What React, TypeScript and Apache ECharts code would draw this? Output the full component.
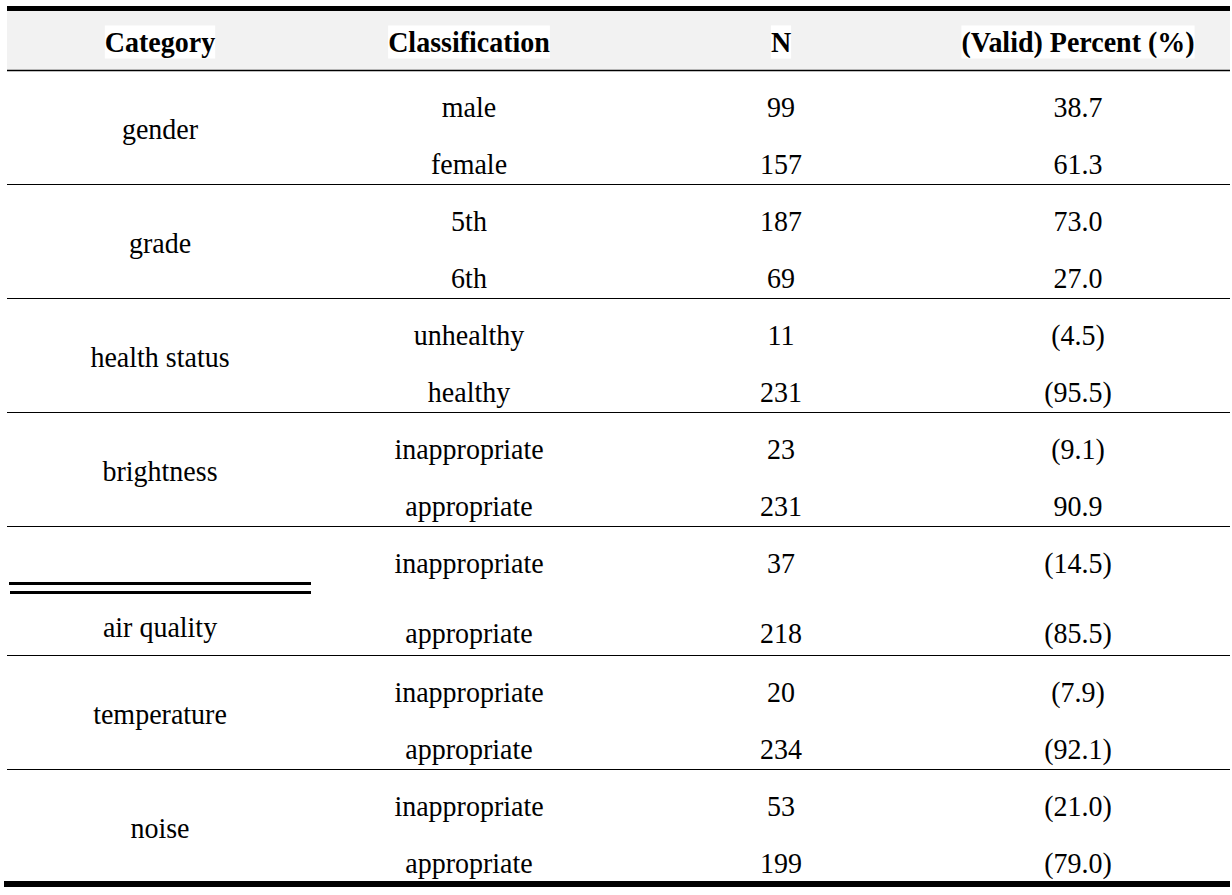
import React, { useEffect, useRef } from "react";
import * as echarts from "echarts";

const headers = ["Category", "Classification", "N", "(Valid) Percent (%)"];
const categories = ["gender", "grade", "health status", "brightness", "air quality", "temperature", "noise"];
const classifications = [
  ["male", "female"],
  ["5th", "6th"],
  ["unhealthy", "healthy"],
  ["inappropriate", "appropriate"],
  ["inappropriate", "appropriate"],
  ["inappropriate", "appropriate"],
  ["inappropriate", "appropriate"],
];
const nValues = [
  [99, 157],
  [187, 69],
  [11, 231],
  [23, 231],
  [37, 218],
  [20, 234],
  [53, 199],
];
const percentLabels = [
  ["38.7", "61.3"],
  ["73.0", "27.0"],
  ["(4.5)", "(95.5)"],
  ["(9.1)", "90.9"],
  ["(14.5)", "(85.5)"],
  ["(7.9)", "(92.1)"],
  ["(21.0)", "(79.0)"],
];

const FONT = "Liberation Serif";
const FS = 28;
const SY = 1.07;

export default function App() {
  const ref = useRef<HTMLDivElement>(null);
  useEffect(() => {
    if (!ref.current) return;
    const chart = echarts.init(ref.current, null, { renderer: "svg" });
    const colX = [160, 469, 781, 1078];
    const left = 7;
    const right = 1230;
    const headerBottom = 70;
    const els: any[] = [];

    const txt = (s: string, x: number, y: number, bold = false, bg = false) => ({
      type: "text",
      x,
      y,
      scaleY: SY,
      style: {
        text: s,
        x: 0,
        y: 0,
        fill: "#000",
        fontFamily: FONT,
        fontSize: FS,
        fontWeight: bold ? "bold" : "normal",
        textAlign: "center",
        textVerticalAlign: "middle",
        ...(bg ? { backgroundColor: "#fff", padding: [2, 0, 1, 0] } : {}),
      },
    });

    // header background
    els.push({ type: "rect", shape: { x: left, y: 10, width: right - left, height: headerBottom - 10 }, style: { fill: "#f2f2f2" } });
    // top thick line
    els.push({ type: "rect", shape: { x: left, y: 6, width: right - left, height: 5 }, style: { fill: "#000" } });
    // header bottom line
    els.push({ type: "line", shape: { x1: left, y1: headerBottom + 0.5, x2: right, y2: headerBottom + 0.5 }, style: { stroke: "#000", lineWidth: 1.5 } });
    headers.forEach((h, i) => els.push(txt(h, colX[i], 42, true, true)));

    let top = headerBottom;
    categories.forEach((cat, gi) => {
      const special = cat === "air quality";
      const h = special ? 129 : 114;
      const y1 = top + 37;
      const y2 = special ? top + 107 : top + 94;
      const cy = special ? top + 101 : top + 59;
      els.push(txt(cat, colX[0], cy));
      [y1, y2].forEach((yy, k) => {
        els.push(txt(classifications[gi][k], colX[1], yy));
        els.push(txt(String(nValues[gi][k]), colX[2], yy));
        els.push(txt(percentLabels[gi][k], colX[3], yy));
      });
      if (special) {
        els.push({ type: "rect", shape: { x: 9, y: top + 56, width: 302, height: 3 }, style: { fill: "#000" } });
        els.push({ type: "rect", shape: { x: 10, y: top + 65, width: 301, height: 3 }, style: { fill: "#000" } });
      }
      top += h;
      if (gi < categories.length - 1) {
        els.push({ type: "line", shape: { x1: left, y1: top + 0.5, x2: right, y2: top + 0.5 }, style: { stroke: "#000", lineWidth: 1 } });
      }
    });
    // bottom thick line
    els.push({ type: "rect", shape: { x: 4, y: top - 2, width: right - 4, height: 6 }, style: { fill: "#000" } });

    chart.setOption({
      animation: false,
      backgroundColor: "#fff",
      graphic: { elements: els },
    });
    return () => chart.dispose();
  }, []);
  return <div ref={ref} style={{ position: "fixed", left: 0, top: 0, width: 1232, height: 895 }} />;
}
